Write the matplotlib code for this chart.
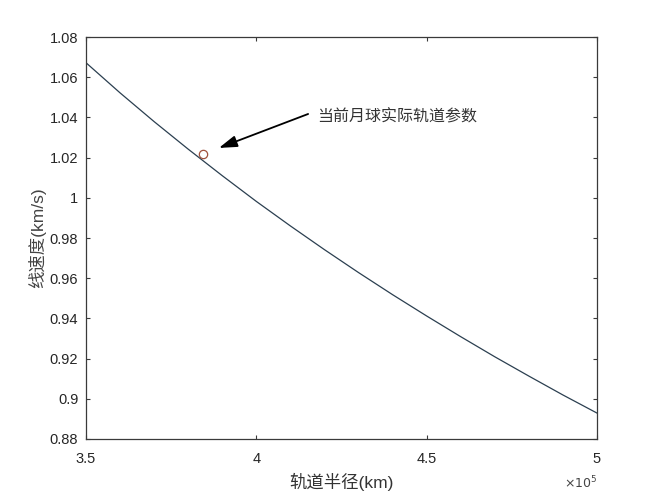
import matplotlib
matplotlib.use('Agg')
import matplotlib.pyplot as plt
import numpy as np
from matplotlib.ticker import FuncFormatter

plt.rcParams['font.family'] = ['Liberation Sans', 'Noto Sans CJK SC', 'DejaVu Sans']

# orbital radius (km) and speed (km/s)
radius = [3.5e5, 3.6e5, 3.7e5, 3.8e5, 3.9e5, 4.0e5, 4.1e5, 4.2e5,
          4.3e5, 4.4e5, 4.5e5, 4.6e5, 4.7e5, 4.8e5, 4.9e5, 5.0e5]
speed = [1.0672, 1.0522, 1.0379, 1.0242, 1.0110, 0.9982, 0.9860, 0.9742,
         0.9628, 0.9518, 0.9412, 0.9309, 0.9209, 0.9113, 0.9019, 0.8929]

# current moon orbit
moon_r = 3.844e5
moon_v = 1.022

xticks = [3.5e5, 4.0e5, 4.5e5, 5.0e5]
yticks = [0.88, 0.90, 0.92, 0.94, 0.96, 0.98, 1.00, 1.02, 1.04, 1.06, 1.08]

note = '当前月球实际轨道参数'
xlabel = '轨道半径(km)'
ylabel = '线速度(km/s)'

axcol = '#3a3a3a'
txtcol = '#262626'

fig = plt.figure(figsize=(6.6, 4.95), dpi=100)
ax = fig.add_axes([86/660, 1-439/495, (597-86)/660, (439-37)/495])

ax.plot(radius, speed, color='#2b3f50', lw=0.9)
ax.plot(moon_r, moon_v, 'o', mfc='none', mec='#a0523d', ms=6, mew=0.9)

ax.annotate('', xy=(3.89e5, 1.0248), xytext=(4.152e5, 1.0417),
            arrowprops=dict(arrowstyle='-|>,head_length=1.1,head_width=0.35',
                            color='black', lw=1.3, shrinkA=0, shrinkB=0))
ax.text(4.178e5, 1.0402, note, fontsize=11.5, color='#333333',
        ha='left', va='center')

ax.set_xlim(3.5e5, 5.0e5)
ax.set_ylim(0.88, 1.08)
ax.set_xticks(xticks)
ax.set_yticks(yticks)
ax.xaxis.set_major_formatter(FuncFormatter(lambda v, p: '%g' % (v / 1e5)))
ax.yaxis.set_major_formatter(FuncFormatter(lambda v, p: '%g' % round(v, 2)))

ax.tick_params(direction='in', length=3, width=0.8, color=axcol,
               labelsize=10.5, labelcolor=txtcol, top=True, right=True, pad=5.5)
ax.tick_params(axis='x', pad=9.5)
for s in ax.spines.values():
    s.set_color(axcol)
    s.set_linewidth(0.9)

ax.set_xlabel(xlabel, fontsize=12.5, color='#333333', labelpad=5)
ax.set_ylabel(ylabel, fontsize=12.5, color='#444444', labelpad=3)
ax.text(1.0, -0.11, r'$\times 10^5$', transform=ax.transAxes,
        ha='right', va='center', fontsize=9, color='#444444')

fig.savefig('out.png', dpi=100)
